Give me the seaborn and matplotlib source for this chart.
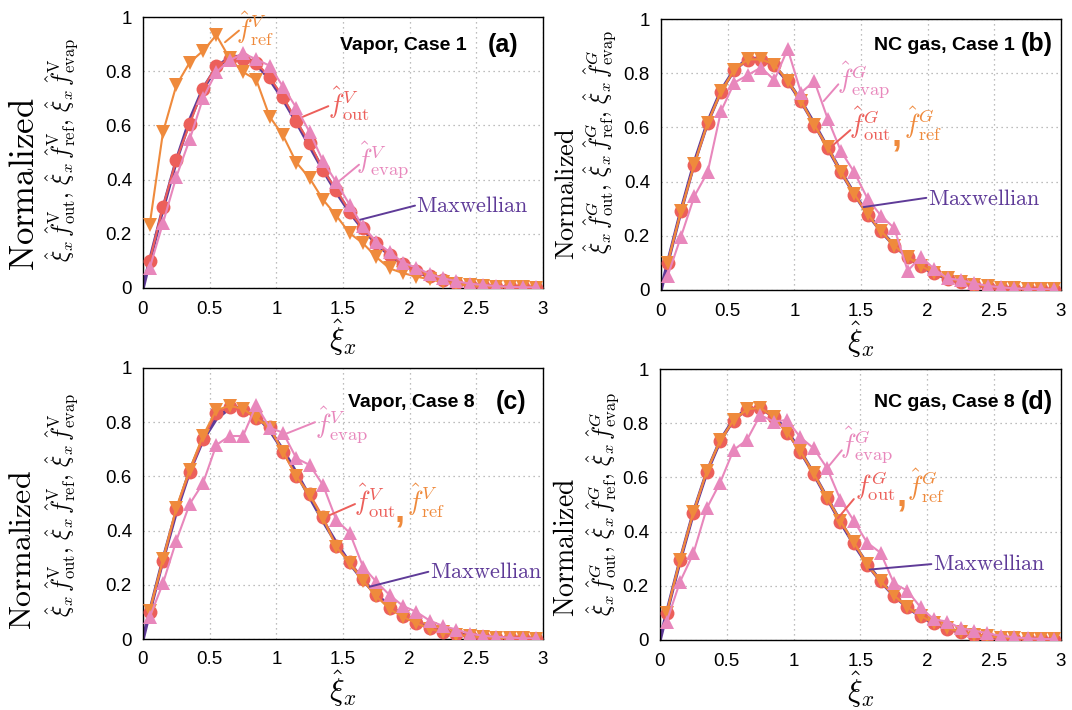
import numpy as np
import pandas as pd
import matplotlib
matplotlib.use("Agg")
import matplotlib.pyplot as plt
import seaborn as sns

# ---------------- data ----------------
xi = [0.05, 0.15, 0.25, 0.35, 0.45, 0.55, 0.65, 0.75, 0.85, 0.95,
      1.05, 1.15, 1.25, 1.35, 1.45, 1.55, 1.65, 1.75, 1.85, 1.95,
      2.05, 2.15, 2.25, 2.35, 2.45, 2.55, 2.65, 2.75, 2.85, 2.95]

maxwell_x = [0.0] + xi
maxwell_y = [0.0, 0.100, 0.293, 0.470, 0.619, 0.735, 0.813, 0.852, 0.855, 0.826,
             0.771, 0.697, 0.613, 0.524, 0.436, 0.354, 0.280, 0.217, 0.164, 0.121,
             0.087, 0.061, 0.042, 0.028, 0.019, 0.012, 0.008, 0.005, 0.003, 0.002, 0.001]

# (a) Vapor, Case 1
a_out = [0.100, 0.300, 0.474, 0.604, 0.736, 0.820, 0.844, 0.846, 0.832, 0.777,
         0.706, 0.616, 0.536, 0.436, 0.363, 0.282, 0.220, 0.166, 0.122, 0.088,
         0.062, 0.043, 0.029, 0.019, 0.012, 0.008, 0.005, 0.003, 0.002, 0.001]
a_ref = [0.233, 0.575, 0.748, 0.832, 0.875, 0.933, 0.847, 0.797, 0.768, 0.632,
         0.563, 0.463, 0.405, 0.326, 0.267, 0.202, 0.165, 0.114, 0.072, 0.055,
         0.042, 0.032, 0.022, 0.015, 0.010, 0.006, 0.004, 0.003, 0.002, 0.001]
a_evap = [0.073, 0.240, 0.410, 0.548, 0.700, 0.797, 0.840, 0.866, 0.844, 0.820,
          0.743, 0.665, 0.575, 0.468, 0.390, 0.307, 0.227, 0.171, 0.132, 0.094,
          0.075, 0.052, 0.036, 0.025, 0.016, 0.011, 0.007, 0.004, 0.003, 0.002]

# (b) NC gas, Case 1
b_out = [0.099, 0.290, 0.463, 0.615, 0.731, 0.811, 0.849, 0.849, 0.830, 0.770,
         0.697, 0.607, 0.525, 0.434, 0.352, 0.278, 0.216, 0.162, 0.120, 0.087,
         0.061, 0.042, 0.028, 0.019, 0.012, 0.008, 0.005, 0.003, 0.002, 0.001]
b_ref = [0.101, 0.292, 0.465, 0.617, 0.733, 0.813, 0.851, 0.851, 0.832, 0.772,
         0.699, 0.609, 0.527, 0.436, 0.354, 0.280, 0.218, 0.164, 0.122, 0.089,
         0.063, 0.044, 0.030, 0.020, 0.013, 0.009, 0.006, 0.004, 0.003, 0.002]
b_evap = [0.052, 0.197, 0.346, 0.435, 0.660, 0.765, 0.793, 0.821, 0.775, 0.889,
          0.728, 0.771, 0.632, 0.512, 0.434, 0.336, 0.274, 0.228, 0.071, 0.123,
          0.077, 0.043, 0.036, 0.025, 0.015, 0.010, 0.006, 0.004, 0.003, 0.002]

# (c) Vapor, Case 8
c_out = [0.100, 0.289, 0.479, 0.617, 0.737, 0.835, 0.855, 0.845, 0.814, 0.781,
         0.691, 0.601, 0.535, 0.449, 0.343, 0.285, 0.220, 0.162, 0.113, 0.085,
         0.060, 0.040, 0.026, 0.018, 0.011, 0.007, 0.005, 0.003, 0.002, 0.001]
c_ref = [0.105, 0.295, 0.485, 0.625, 0.750, 0.845, 0.860, 0.850, 0.815, 0.780,
         0.690, 0.600, 0.530, 0.445, 0.340, 0.280, 0.215, 0.158, 0.110, 0.082,
         0.058, 0.038, 0.025, 0.016, 0.010, 0.006, 0.004, 0.003, 0.002, 0.001]
c_evap = [0.080, 0.206, 0.363, 0.498, 0.575, 0.716, 0.749, 0.749, 0.863, 0.780,
          0.761, 0.667, 0.642, 0.568, 0.439, 0.392, 0.267, 0.211, 0.162, 0.122,
          0.100, 0.068, 0.048, 0.035, 0.020, 0.012, 0.008, 0.005, 0.003, 0.002]

# (d) NC gas, Case 8
d_out = [0.098, 0.295, 0.470, 0.621, 0.735, 0.809, 0.849, 0.855, 0.822, 0.765,
         0.695, 0.613, 0.523, 0.437, 0.359, 0.277, 0.216, 0.163, 0.120, 0.087,
         0.061, 0.042, 0.028, 0.019, 0.012, 0.008, 0.005, 0.003, 0.002, 0.001]
d_ref = [0.100, 0.297, 0.472, 0.623, 0.737, 0.811, 0.851, 0.857, 0.824, 0.767,
         0.697, 0.615, 0.525, 0.439, 0.361, 0.279, 0.218, 0.165, 0.122, 0.089,
         0.063, 0.044, 0.030, 0.020, 0.013, 0.009, 0.006, 0.004, 0.003, 0.002]
d_evap = [0.068, 0.215, 0.320, 0.486, 0.581, 0.701, 0.738, 0.830, 0.806, 0.812,
          0.748, 0.707, 0.634, 0.517, 0.440, 0.359, 0.322, 0.209, 0.182, 0.120,
          0.076, 0.068, 0.043, 0.035, 0.025, 0.015, 0.010, 0.006, 0.004, 0.003]

xticks = [0, 0.5, 1, 1.5, 2, 2.5, 3]
xticklabels = ["0", "0.5", "1", "1.5", "2", "2.5", "3"]
yticks = [0, 0.2, 0.4, 0.6, 0.8, 1.0]
yticklabels = ["0", "0.2", "0.4", "0.6", "0.8", "1"]

panel_names = ["Vapor, Case 1", "NC gas, Case 1", "Vapor, Case 8", "NC gas, Case 8"]
panel_tags = ["(a)", "(b)", "(c)", "(d)"]

# ---------------- style ----------------
sns.set_theme(style="white")
plt.rcParams["font.family"] = ["Liberation Sans", "DejaVu Sans"]
plt.rcParams["mathtext.fontset"] = "cm"
plt.rcParams["text.color"] = "black"
plt.rcParams["axes.labelcolor"] = "black"

C_MAX = "#5f3b98"
C_OUT = "#ec5f5a"
C_REF = "#ef8a3c"
C_EVAP = "#e887bc"

fig = plt.figure(figsize=(10.72, 7.10), dpi=100)
W, H = 1072.0, 710.0

def ax_rect(l, t, r, b):
    return [l / W, 1 - b / H, (r - l) / W, (b - t) / H]

rects = [ax_rect(143, 17, 543, 288), ax_rect(661, 19, 1061, 290),
         ax_rect(143, 368, 543, 639), ax_rect(660, 369, 1061, 640)]
axes = [fig.add_axes(r) for r in rects]

datasets = [(a_out, a_ref, a_evap), (b_out, b_ref, b_evap),
            (c_out, c_ref, c_evap), (d_out, d_ref, d_evap)]

for i, ax in enumerate(axes):
    out, ref, evap = datasets[i]
    sns.lineplot(x=maxwell_x, y=maxwell_y, ax=ax, color=C_MAX, linewidth=2.6,
                 estimator=None, sort=False, zorder=2)
    sns.lineplot(x=xi, y=out, ax=ax, color=C_OUT, linewidth=1.5, marker="o",
                 markersize=10, markeredgewidth=0, estimator=None, sort=False, zorder=3)
    sns.lineplot(x=xi, y=ref, ax=ax, color=C_REF, linewidth=1.5, marker="v",
                 markersize=10.5, markeredgewidth=0, estimator=None, sort=False, zorder=4)
    sns.lineplot(x=xi, y=evap, ax=ax, color=C_EVAP, linewidth=1.5, marker="^",
                 markersize=10.5, markeredgewidth=0, estimator=None, sort=False, zorder=5)
    ax.set_xlim(0, 3)
    ax.set_ylim(0, 1)
    ax.set_xticks(xticks)
    ax.set_xticklabels(xticklabels, fontsize=13.5)
    ax.set_yticks(yticks)
    ax.set_yticklabels(yticklabels, fontsize=13.5)
    ax.tick_params(axis="both", length=0, colors="black")
    ax.tick_params(axis="y", pad=8)
    ax.tick_params(axis="x", pad=9)
    ax.grid(True, linestyle=(0, (1.0, 3.0)), color="#a8a8a8", linewidth=0.9)
    for s in ax.spines.values():
        s.set_color("black")
        s.set_linewidth(1.0)
    ax.set_xlabel(r"$\hat{\xi}_x$", fontsize=22, labelpad=0)
    ax.set_ylabel("")

# panel titles
title_pos = [(0.81, 0.9375), (0.885, 0.98), (0.83, 0.959), (0.885, 0.98)]
title_y = [0.893, 0.904, 0.871, 0.875]
for i, ax in enumerate(axes):
    ax.text(title_pos[i][0], title_y[i], panel_names[i], transform=ax.transAxes,
            ha="right", va="center", fontsize=14, fontweight="bold", color="black", zorder=10)
    ax.text(title_pos[i][1], title_y[i] + 0.005, panel_tags[i], transform=ax.transAxes,
            ha="right", va="center", fontsize=18, fontweight="bold", color="black", zorder=10)

# y labels
ylab_V = r"$\hat{\xi}_x\,\hat{f}^{\mathrm{V}}_{\mathrm{out}},\,\hat{\xi}_x\,\hat{f}^{\mathrm{V}}_{\mathrm{ref}},\,\hat{\xi}_x\,\hat{f}^{\mathrm{V}}_{\mathrm{evap}}$"
ylab_G = r"$\hat{\xi}_x\,\hat{f}^{G}_{\mathrm{out}},\,\hat{\xi}_x\,\hat{f}^{G}_{\mathrm{ref}},\,\hat{\xi}_x\,\hat{f}^{G}_{\mathrm{evap}}$"
norm_specs = [(24, 184, 25), (567, 194, 19), (23, 550, 23), (567, 547, 20)]
line2_specs = [(62, 150, ylab_V, 17), (600, 142, ylab_G, 17), (62, 505, ylab_V, 17), (603, 504, ylab_G, 17)]
for (x, y, fs) in norm_specs:
    fig.text(x / W, 1 - y / H, r"$\mathrm{Normalized}$", rotation=90, ha="center",
             va="center", fontsize=fs)
for (x, y, s, fs) in line2_specs:
    fig.text(x / W, 1 - y / H, s, rotation=90, ha="center", va="center", fontsize=fs)

# annotations
def pointer(ax, p0, p1, color):
    ax.annotate("", xy=p0, xytext=p1,
                arrowprops=dict(arrowstyle="-", color=color, lw=1.4,
                                shrinkA=0, shrinkB=0), zorder=9)

def label(ax, x, y, s, color, fs=19, **kw):
    ax.text(x, y, s, color=color, fontsize=fs, ha="left", va="center", zorder=10, **kw)

MX = r"$\mathrm{Maxwellian}$"
MXFS = 16
# (a)
ax = axes[0]
pointer(ax, (0.615, 0.907), (0.72, 0.95), C_REF)
label(ax, 0.70, 0.955, r"$\hat{f}^{V}_{\mathrm{ref}}$", C_REF)
pointer(ax, (1.20, 0.632), (1.39, 0.671), C_OUT)
label(ax, 1.39, 0.68, r"$\hat{f}^{V}_{\mathrm{out}}$", C_OUT)
pointer(ax, (1.47, 0.394), (1.62, 0.455), C_EVAP)
label(ax, 1.60, 0.475, r"$\hat{f}^{V}_{\mathrm{evap}}$", C_EVAP)
pointer(ax, (1.63, 0.252), (2.04, 0.304), C_MAX)
label(ax, 2.05, 0.30, MX, C_MAX, fs=MXFS)
# (b)
ax = axes[1]
pointer(ax, (1.22, 0.697), (1.33, 0.759), C_EVAP)
label(ax, 1.32, 0.775, r"$\hat{f}^{G}_{\mathrm{evap}}$", C_EVAP)
pointer(ax, (1.28, 0.53), (1.42, 0.59), C_OUT)
label(ax, 1.41, 0.612, r"$\hat{f}^{G}_{\mathrm{out}}$", C_OUT)
label(ax, 1.73, 0.57, ",", C_REF, fs=26, fontweight="bold")
label(ax, 1.82, 0.612, r"$\hat{f}^{G}_{\mathrm{ref}}$", C_REF)
pointer(ax, (1.52, 0.306), (1.99, 0.34), C_MAX)
label(ax, 2.00, 0.335, MX, C_MAX, fs=MXFS)
# (c)
ax = axes[2]
pointer(ax, (1.05, 0.753), (1.29, 0.80), C_EVAP)
label(ax, 1.29, 0.79, r"$\hat{f}^{V}_{\mathrm{evap}}$", C_EVAP)
pointer(ax, (1.40, 0.457), (1.59, 0.498), C_OUT)
label(ax, 1.58, 0.51, r"$\hat{f}^{V}_{\mathrm{out}}$", C_OUT)
label(ax, 1.89, 0.47, ",", C_REF, fs=26, fontweight="bold")
label(ax, 1.98, 0.51, r"$\hat{f}^{V}_{\mathrm{ref}}$", C_REF)
pointer(ax, (1.70, 0.193), (2.14, 0.248), C_MAX)
label(ax, 2.15, 0.245, MX, C_MAX, fs=MXFS)
# (d)
ax = axes[3]
pointer(ax, (1.33, 0.449), (1.45, 0.52), C_OUT)
pointer(ax, (1.26, 0.64), (1.36, 0.70), C_EVAP)
label(ax, 1.35, 0.72, r"$\hat{f}^{G}_{\mathrm{evap}}$", C_EVAP)
label(ax, 1.46, 0.57, r"$f^{G}_{\mathrm{out}}$", C_OUT)
label(ax, 1.77, 0.53, ",", C_REF, fs=26, fontweight="bold")
label(ax, 1.85, 0.57, r"$\hat{f}^{G}_{\mathrm{ref}}$", C_REF)
pointer(ax, (1.57, 0.26), (2.03, 0.28), C_MAX)
label(ax, 2.04, 0.28, MX, C_MAX, fs=MXFS)

fig.savefig("out.png", dpi=100)
